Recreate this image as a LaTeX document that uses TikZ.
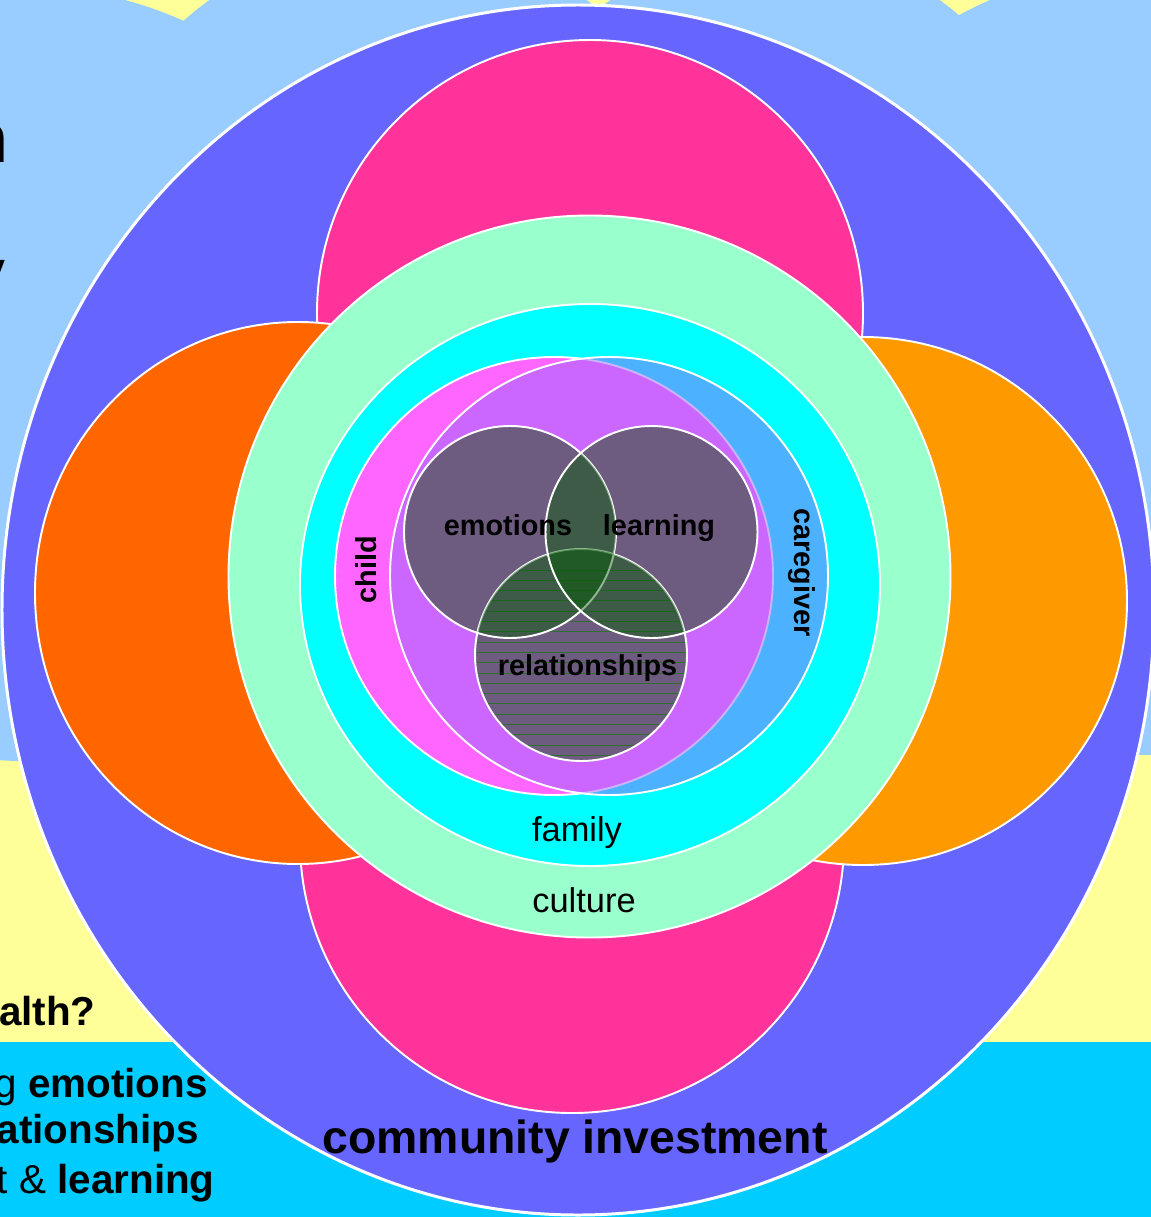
\documentclass[tikz,border=0pt]{standalone}
\usepackage{fontspec}
\setmainfont{Liberation Sans}
\usepackage{xcolor}

\definecolor{skyblue}{HTML}{99CCFF}
\definecolor{paleyellow}{HTML}{FFFF99}
\definecolor{bandcyan}{HTML}{00CCFF}
\definecolor{commpurple}{HTML}{6666FF}
\definecolor{hotpink}{HTML}{FF3399}
\definecolor{deeporange}{HTML}{FF6600}
\definecolor{softorange}{HTML}{FF9900}
\definecolor{mint}{HTML}{99FFCC}
\definecolor{aqua}{HTML}{00FFFF}
\definecolor{childpink}{HTML}{FF66FF}
\definecolor{carepurple}{HTML}{9966FF}
\definecolor{venngray}{HTML}{6E5C80}
\definecolor{venngreen}{HTML}{005A00}
\definecolor{hatchgreen}{HTML}{2E6E2E}

\tikzset{
	ring/.style={draw=white, line width=1.1pt},
	outerring/.style={draw=white, line width=1.7pt},
	tint/.style={fill=venngreen, fill opacity=0.44},
	hatchline/.style={draw=hatchgreen, line width=0.5pt},
	innerlbl/.style={inner sep=0pt, anchor=base, font=\fontsize{16.4}{18}\selectfont\bfseries},
	ringlbl/.style={inner sep=0pt, anchor=base, font=\fontsize{19.6}{22}\selectfont},
	sidelbl/.style={inner sep=0pt, anchor=base east, font=\fontsize{23}{26}\selectfont},
}

\begin{document}
\begin{tikzpicture}[x=0.02cm, y=-0.02cm]
	\useasboundingbox (0,0) rectangle (1151,1217);
	\clip (0,0) rectangle (1151,1217);
	
	% slide background
	\fill[paleyellow] (0,0) rectangle (1151,1042);
	\fill[skyblue] (25,374) circle (387) (398,261) circle (322) (775,229) circle (282) (1148,361) circle (394);
	\fill[bandcyan] (0,1042) rectangle (1151,1217);
	
	% rings, from the outside in
	\path[fill=commpurple, outerring] (578,610) ellipse [x radius=576, y radius=605];
	\path[fill=hotpink, ring] (590,313) circle (273);
	\path[fill=hotpink, ring] (572,841) circle (272);
	\path[fill=deeporange, ring] (298,593) ellipse [x radius=263, y radius=271];
	\path[fill=softorange, ring] (863,601) circle (264);
	\path[fill=mint, ring] (589.5,576.5) circle (361);
	\path[fill=aqua, ring] (590,585) ellipse [x radius=290, y radius=281];
	
	% child and caregiver
	\path[fill=childpink, ring] (554,576) circle (219);
	\fill[carepurple, fill opacity=0.5] (609,576) circle (219);
	\draw[ring] (609,576) circle (219);
	
	% venn
	\coordinate (emo) at (510,532);
	\coordinate (lrn) at (651.5,532);
	\coordinate (rel) at (581,655);
	\fill[venngray] (emo) circle (106) (lrn) circle (106) (rel) circle (106);
	\begin{scope}
		\clip (rel) circle (106);
		\foreach \hy in {570,580.3,...,765}
			\draw[hatchline] (470,\hy) -- (692,\hy);
	\end{scope}
	\draw[ring] (rel) circle (106);
	\begin{scope}
		\clip (rel) circle (106);
		\fill[tint] (emo) circle (106);
	\end{scope}
	\draw[ring] (emo) circle (106);
	\begin{scope}
		\clip (lrn) circle (106);
		\fill[tint] (emo) circle (106) (rel) circle (106);
	\end{scope}
	\draw[ring] (lrn) circle (106);
	
	% labels
	\node[innerlbl] (emotions) at (508,535) {emotions};
	\node[innerlbl] (learning) at (659,535) {learning};
	\node[innerlbl] (relationships) at (587.5,675) {relationships};
	\node[innerlbl, rotate=90] (child) at (376,570) {child};
	\node[innerlbl, rotate=-90] (caregiver) at (794,572.5) {caregiver};
	\node[ringlbl] (family) at (577,841) {family};
	\node[ringlbl] (culture) at (584,912) {culture};
	\node[innerlbl, font=\fontsize{26.4}{30}\selectfont\bfseries] (community) at (575,1153) {community investment};
	
	% text cut off by the left edge
	\node[sidelbl, font=\fontsize{40}{44}\selectfont\bfseries] (frag_n) at (9,162) {n};
	\node[sidelbl, font=\fontsize{40}{44}\selectfont\bfseries] (frag_y) at (6,297) {y};
	\node[sidelbl] (health) at (96,1025) {\textbf{alth?}};
	\node[sidelbl] (line_emo) at (208,1097) {g \textbf{emotions}};
	\node[sidelbl] (line_rel) at (199,1143) {\textbf{ationships}};
	\node[sidelbl] (line_lrn) at (215,1193) {t \& \textbf{learning}};
\end{tikzpicture}
\end{document}
